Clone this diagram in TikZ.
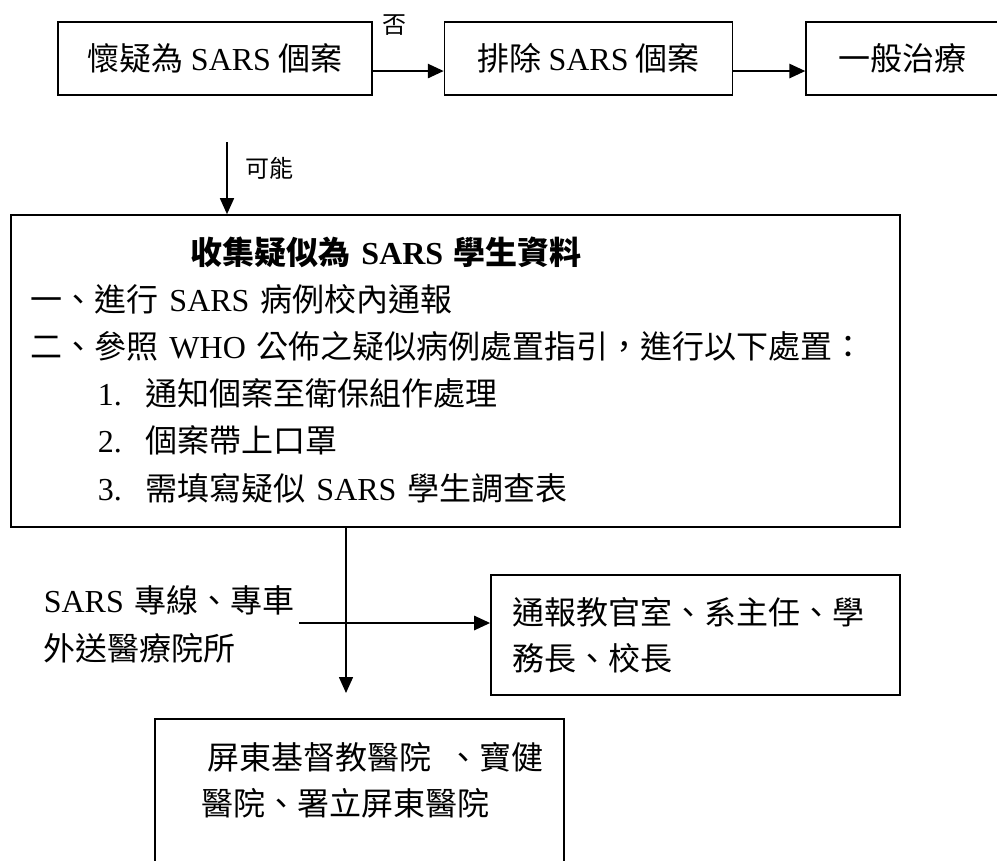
\documentclass[tikz,border=0pt]{standalone}
\usepackage{fontspec}
\setmainfont{Noto Sans CJK TC}
\newfontfamily\tms{Liberation Serif}
\usetikzlibrary{arrows.meta,positioning}

\begin{document}
\begin{tikzpicture}[x=0.75pt,y=-0.75pt,>={Triangle[length=12pt,width=10.5pt]},
                line width=1.2pt,
                flow box/.style={draw,rectangle,minimum height=54.75pt,inner sep=0pt,font=\fontsize{24}{30}\selectfont},
                text lines/.style={anchor=base west,align=left,inner sep=0pt,text width=#1},
                note/.style={font=\fontsize{18}{22}\selectfont,inner sep=0pt},
                heavy/.style={line width=2pt}]
                \clip (0,0) rectangle (997,861);
                % top row
                \node[flow box,minimum width=235.5pt] (suspect) at (215,58.5) {懷疑為 {\tms SARS} 個案};
                \node[flow box,minimum width=216pt] (exclude) [right=53.25pt of suspect] {排除 {\tms SARS} 個案};
                \node[flow box,minimum width=144pt] (general) [right=54pt of exclude] {一般治療};

                % main box
                \node[draw,minimum width=666.75pt,minimum height=234pt] (collect) at (455.5,371) {};
                \node[text lines=650pt,font=\fontsize{24}{35.4}\selectfont] (steps) at (30,264)
                  {\hspace*{120pt}{\bfseries 收集疑似為 {\tms SARS} 學生資料}\\
                   一、進行 {\tms SARS} 病例校內通報\\
                   二、參照 {\tms WHO} 公佈之疑似病例處置指引，進行以下處置：\\
                   \hspace*{50.25pt}\makebox[36pt][l]{\tms 1.}通知個案至衛保組作處理\\
                   \hspace*{50.25pt}\makebox[36pt][l]{\tms 2.}個案帶上口罩\\
                   \hspace*{50.25pt}\makebox[36pt][l]{\tms 3.}需填寫疑似 {\tms SARS} 學生調查表};

                % bottom part
                \node[draw,text width=275.25pt,inner xsep=15.75pt,minimum height=90pt,align=left,
                      font=\fontsize{24}{34.5}\selectfont] (notify) at (695.5,635)
                  {通報教官室、系主任、學\\務長、校長};
                \node[text lines=200pt,font=\fontsize{24}{36}\selectfont] (route) at (43,612)
                  {{\tms SARS} 專線、專車\\外送醫療院所};
                \node[draw,minimum width=306.75pt,minimum height=120.75pt] (hosp) at (359.5,799.5) {};
                \node[text lines=300pt,font=\fontsize{24}{34.5}\selectfont] (hosplist) at (201,769)
                  {\hspace*{4.5pt}屏東基督教醫院\hspace{12pt}、寶健\\醫院、署立屏東醫院};

                \coordinate (maybe) at (227,142);
                \coordinate (send) at (299,623);
                \coordinate (ambul) at (346,693);

                \draw[->,heavy] ([yshift=-9.4pt]suspect.east) -- ([yshift=-9.4pt]exclude.west)
                  node[note,pos=0.3,above=26pt] {否};
                \draw[->,heavy] ([yshift=-9.4pt]exclude.east) -- ([yshift=-9.4pt]general.west);
                \draw[->] (maybe) -- (maybe |- collect.north)
                  node[note,pos=0.36,right=13.5pt] {可能};
                \draw[->] (collect.south -| ambul) -- (ambul);
                \draw[->,heavy] (send) -- (send -| notify.west);
\end{tikzpicture}
\end{document}
